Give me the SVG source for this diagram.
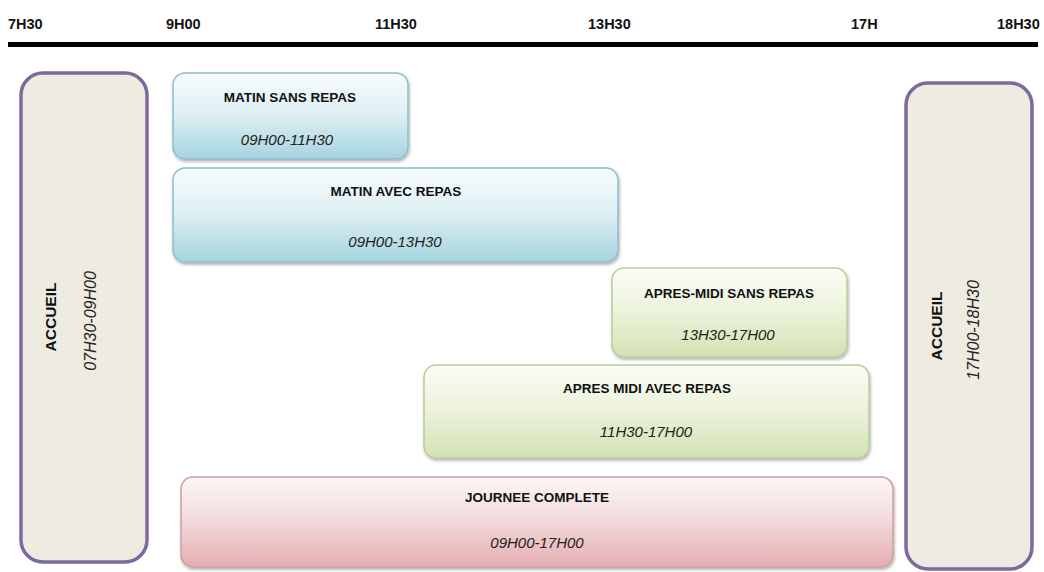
<svg xmlns="http://www.w3.org/2000/svg" width="1044" height="572" viewBox="0 0 1044 572">
<style>
.hdr{font-family:"Liberation Sans",Arial,sans-serif;font-weight:bold;font-size:14.5px;fill:#111}
.ttl{font-family:"Liberation Sans",Arial,sans-serif;font-weight:bold;font-size:13.5px;fill:#111;text-anchor:middle}
.sub{font-family:"Liberation Sans",Arial,sans-serif;font-style:italic;font-size:15px;fill:#222;text-anchor:middle}
.acc{font-family:"Liberation Sans",Arial,sans-serif;font-weight:bold;font-size:15.5px;fill:#111;text-anchor:middle}
.accs{font-family:"Liberation Sans",Arial,sans-serif;font-style:italic;font-size:16px;fill:#222;text-anchor:middle}
.accbox{fill:#eeebe1;stroke:#7d6a9c;stroke-width:3.5}
.blue{fill:url(#gBlue);stroke:#8fbccb;stroke-width:1.5;filter:url(#sh)}
.green{fill:url(#gGreen);stroke:#b9cc9a;stroke-width:1.5;filter:url(#sh)}
.pink{fill:url(#gPink);stroke:#cc9ea2;stroke-width:1.5;filter:url(#sh)}
</style>
<defs>
<linearGradient id="gBlue" x1="0" y1="0" x2="0" y2="1">
<stop offset="0" stop-color="#f7fcfd"/><stop offset="0.45" stop-color="#e0f0f4"/><stop offset="1" stop-color="#a6d4df"/>
</linearGradient>
<linearGradient id="gGreen" x1="0" y1="0" x2="0" y2="1">
<stop offset="0" stop-color="#fcfdf6"/><stop offset="0.45" stop-color="#edf3de"/><stop offset="1" stop-color="#d3e2b4"/>
</linearGradient>
<linearGradient id="gPink" x1="0" y1="0" x2="0" y2="1">
<stop offset="0" stop-color="#fdf6f6"/><stop offset="0.45" stop-color="#f3dcdd"/><stop offset="1" stop-color="#e5adb1"/>
</linearGradient>
<filter id="sh" x="-5%" y="-10%" width="110%" height="130%">
<feDropShadow dx="1" dy="2" stdDeviation="1.5" flood-color="#000" flood-opacity="0.3"/>
</filter>
</defs>
<rect width="1044" height="572" fill="#ffffff"/>
<g id="timeline">
<line x1="8" y1="44.5" x2="1038" y2="44.5" stroke="#000" stroke-width="5"/>
<text class="hdr" x="8" y="29">7H30</text>
<text class="hdr" x="166" y="29">9H00</text>
<text class="hdr" x="375" y="29">11H30</text>
<text class="hdr" x="588" y="29">13H30</text>
<text class="hdr" x="851" y="29">17H</text>
<text class="hdr" x="997" y="29">18H30</text>
</g>
<g id="accueil-matin">
<rect class="accbox" x="21" y="73" width="126" height="489" rx="22"/>
<text class="acc" transform="translate(56,317) rotate(-90)">ACCUEIL</text>
<text class="accs" transform="translate(96,321) rotate(-90)">07H30-09H00</text>
</g>
<g id="accueil-soir">
<rect class="accbox" x="906" y="83" width="126" height="486" rx="22"/>
<text class="acc" transform="translate(942,326) rotate(-90)">ACCUEIL</text>
<text class="accs" transform="translate(979,330) rotate(-90)">17H00-18H30</text>
</g>
<g id="matin-sans-repas">
<rect class="blue" x="173" y="73" width="235" height="86" rx="12"/>
<text class="ttl" x="290" y="102">MATIN SANS REPAS</text>
<text class="sub" x="287" y="145">09H00-11H30</text>
</g>
<g id="matin-avec-repas">
<rect class="blue" x="173" y="168" width="445" height="94" rx="12"/>
<text class="ttl" x="396" y="196">MATIN AVEC REPAS</text>
<text class="sub" x="395" y="247">09H00-13H30</text>
</g>
<g id="apres-midi-sans-repas">
<rect class="green" x="612" y="268" width="235" height="89" rx="12"/>
<text class="ttl" x="729" y="298">APRES-MIDI SANS REPAS</text>
<text class="sub" x="728" y="340">13H30-17H00</text>
</g>
<g id="apres-midi-avec-repas">
<rect class="green" x="424" y="365" width="445" height="93" rx="12"/>
<text class="ttl" x="647" y="393">APRES MIDI AVEC REPAS</text>
<text class="sub" x="646" y="437">11H30-17H00</text>
</g>
<g id="journee-complete">
<rect class="pink" x="181" y="477" width="712" height="90" rx="12"/>
<text class="ttl" x="537" y="502">JOURNEE COMPLETE</text>
<text class="sub" x="537" y="548">09H00-17H00</text>
</g>
<g id="connectors"></g>
</svg>
